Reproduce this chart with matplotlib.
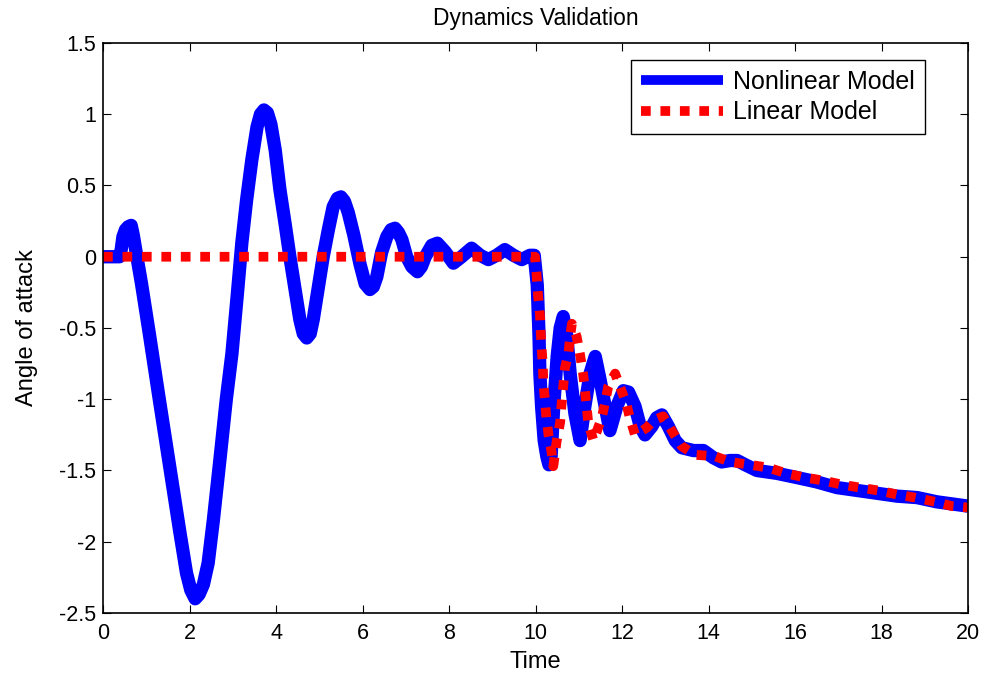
import numpy as np
import matplotlib.pyplot as plt

plt.rcParams['font.family'] = ['Liberation Sans', 'DejaVu Sans']

# nonlinear model response (time, angle of attack)
t_nl = [0.00, 0.38, 0.42, 0.46, 0.52, 0.58, 0.65, 0.70, 0.76, 0.89, 1.07, 1.30,
        1.54, 1.78, 1.93, 2.03, 2.13, 2.22, 2.32, 2.43, 2.55, 2.70, 2.85, 2.98,
        3.10, 3.21, 3.32, 3.44, 3.56, 3.64, 3.72, 3.80, 3.88, 3.98, 4.09, 4.21,
        4.32, 4.44, 4.55, 4.63, 4.71, 4.79, 4.86, 4.97, 5.09, 5.21, 5.32, 5.42,
        5.50, 5.58, 5.67, 5.80, 5.94, 6.06, 6.17, 6.25, 6.33, 6.44, 6.56, 6.66,
        6.75, 6.83, 6.91, 7.02, 7.14, 7.27, 7.36, 7.45, 7.60, 7.73, 7.91, 8.10,
        8.29, 8.52, 8.72, 8.91, 9.10, 9.29, 9.49, 9.68, 9.87, 9.97, 10.04, 10.08,
        10.10, 10.14, 10.20, 10.26, 10.31, 10.36, 10.42, 10.50, 10.57, 10.64, 10.72,
        10.80, 10.91, 11.03, 11.14, 11.26, 11.38, 11.49, 11.61, 11.72, 11.88, 12.03,
        12.15, 12.30, 12.42, 12.53, 12.69, 12.80, 12.92, 13.07, 13.23, 13.38, 13.65,
        13.88, 14.11, 14.30, 14.50, 14.66, 14.85, 15.12, 15.58, 16.05, 16.50, 16.97,
        17.43, 17.90, 18.36, 18.82, 19.28, 19.75, 20.00]
aoa_nl = [0.00, 0.00, 0.05, 0.14, 0.19, 0.21, 0.22, 0.15, 0.04, -0.19, -0.54, -1.00,
          -1.47, -1.94, -2.22, -2.34, -2.40, -2.37, -2.30, -2.15, -1.85, -1.43, -1.00, -0.68,
          -0.28, 0.10, 0.40, 0.68, 0.91, 1.00, 1.03, 1.01, 0.93, 0.75, 0.47, 0.23,
          0.00, -0.23, -0.44, -0.54, -0.57, -0.54, -0.44, -0.23, 0.00, 0.19, 0.35, 0.41,
          0.42, 0.39, 0.31, 0.15, -0.05, -0.19, -0.23, -0.21, -0.14, 0.03, 0.14, 0.19,
          0.20, 0.17, 0.12, 0.00, -0.07, -0.105, -0.07, 0.00, 0.08, 0.095, 0.035, -0.045,
          0.00, 0.06, 0.01, -0.02, 0.01, 0.05, 0.01, -0.02, 0.01, 0.01, -0.20, -0.55,
          -0.82, -1.05, -1.29, -1.40, -1.46, -1.40, -1.05, -0.70, -0.50, -0.42, -0.55,
          -0.82, -1.10, -1.29, -1.05, -0.82, -0.70, -0.86, -1.05, -1.22, -1.05, -0.94,
          -0.95, -1.05, -1.19, -1.25, -1.19, -1.13, -1.11, -1.19, -1.29, -1.34, -1.36,
          -1.36, -1.41, -1.44, -1.43, -1.43, -1.46, -1.50, -1.52, -1.55, -1.58, -1.62,
          -1.64, -1.66, -1.68, -1.69, -1.72, -1.74, -1.75]

# linear model response
t_lin = [0.00, 9.99, 10.03, 10.06, 10.10, 10.12, 10.14, 10.17, 10.18, 10.22, 10.25,
         10.30, 10.37, 10.41, 10.49, 10.57, 10.60, 10.64, 10.68, 10.76, 10.80, 10.84,
         10.95, 11.03, 11.10, 11.14, 11.18, 11.22, 11.34, 11.53, 11.61, 11.68, 11.84,
         11.95, 12.10, 12.18, 12.30, 12.57, 12.72, 12.95, 13.19, 13.38, 13.69, 14.15,
         14.50, 14.96, 15.38, 15.80, 16.23, 16.65, 17.10, 17.50, 17.92, 18.38, 18.77,
         19.24, 19.63, 20.00]
aoa_lin = [0.00, 0.00, -0.15, -0.28, -0.40, -0.53, -0.64, -0.77, -0.89, -1.01, -1.13,
           -1.25, -1.37, -1.47, -1.29, -1.16, -1.04, -0.91, -0.78, -0.68, -0.56, -0.47,
           -0.56, -0.69, -0.82, -0.93, -1.05, -1.17, -1.29, -1.13, -1.02, -0.91, -0.82,
           -0.91, -1.03, -1.13, -1.25, -1.20, -1.15, -1.12, -1.24, -1.33, -1.39, -1.40,
           -1.44, -1.46, -1.48, -1.52, -1.55, -1.57, -1.60, -1.62, -1.64, -1.67, -1.69,
           -1.72, -1.75, -1.76]

fig = plt.figure(figsize=(9.87, 6.76), dpi=100)
ax = fig.add_axes([0.1044, 0.0932, 0.8764, 0.8432])

ax.plot(t_nl, aoa_nl, color='#0000ff', lw=9.6, solid_joinstyle='round',
        solid_capstyle='butt', label='Nonlinear Model')
ax.plot(t_lin, aoa_lin, color='#ff0000', lw=7, dashes=(1.0, 1.0),
        dash_capstyle='butt', label='Linear Model')

ax.set_xlim(0, 20)
ax.set_ylim(-2.5, 1.5)
ax.set_xticks(np.arange(0, 21, 2))
ax.set_yticks(np.arange(-2.5, 1.51, 0.5))
ax.set_yticklabels(['-2.5', '-2', '-1.5', '-1', '-0.5', '0', '0.5', '1', '1.5'])
ax.tick_params(direction='in', length=6, width=0.8, top=True, right=True,
               labelsize=15.5)
ax.tick_params(axis='x', pad=7)
ax.tick_params(axis='y', pad=5)
for sp in ax.spines.values():
    sp.set_linewidth(1.2)

ax.set_title('Dynamics Validation', fontsize=16.5, pad=13)
ax.set_xlabel('Time', fontsize=17, labelpad=5)
ax.set_ylabel('Angle of attack', fontsize=17, labelpad=15)

leg = ax.legend(loc='upper right', bbox_to_anchor=(0.950, 0.970), borderaxespad=0,
                fontsize=18, handlelength=3.3, handletextpad=0.4, labelspacing=0.25,
                borderpad=0.4, fancybox=False, framealpha=1)
leg.get_frame().set_edgecolor('black')
leg.get_frame().set_linewidth(1.0)
leg.get_lines()[0].set_linewidth(7)

fig.savefig('out.png', dpi=100)
